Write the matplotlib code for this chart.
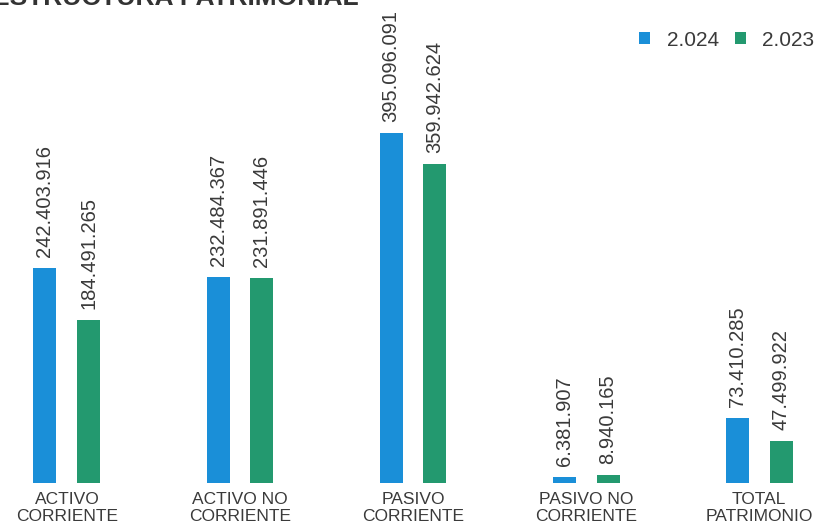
import matplotlib.pyplot as plt
import numpy as np

plt.rcParams["font.family"] = ["Liberation Sans", "DejaVu Sans"]

categories = ["ACTIVO\nCORRIENTE", "ACTIVO NO\nCORRIENTE", "PASIVO\nCORRIENTE",
              "PASIVO NO\nCORRIENTE", "TOTAL\nPATRIMONIO"]
values_2024 = [242403916, 232484367, 395096091, 6381907, 73410285]
values_2023 = [184491265, 231891446, 359942624, 8940165, 47499922]
labels_2024 = ["242.403.916", "232.484.367", "395.096.091", "6.381.907", "73.410.285"]
labels_2023 = ["184.491.265", "231.891.446", "359.942.624", "8.940.165", "47.499.922"]
series_names = ["2.024", "2.023"]

blue = "#1a8fd8"
green = "#23996f"
text_col = "#3a3a3a"

fig = plt.figure(figsize=(8.21, 5.29), dpi=100)
ax = fig.add_axes([0, 46 / 529, 1, 483 / 529])

x = np.arange(len(categories))
w = 0.133
off = 0.127
ax.bar(x - off, values_2024, w, color=blue, label=series_names[0])
ax.bar(x + off, values_2023, w, color=green, label=series_names[1])

ymax = 483 / 350 * 395096091
ax.set_ylim(0, ymax)
ax.set_xlim(-0.387, 4.358)

# value labels, rotated above each bar
pad = ymax * 11 / 483
for xi, v, s in zip(x - off, values_2024, labels_2024):
    ax.text(xi, v + pad, s, rotation=90, ha="center", va="bottom",
            fontsize=14.5, color=text_col)
for xi, v, s in zip(x + off, values_2023, labels_2023):
    ax.text(xi, v + pad, s, rotation=90, ha="center", va="bottom",
            fontsize=14.5, color=text_col)

for xi, c in zip(x, categories):
    ax.text(xi, -ymax * 0.018, c, ha="center", va="top", fontsize=12.5,
            color=text_col, linespacing=1.2)

ax.axis("off")

ax.legend(loc="upper right", bbox_to_anchor=(1.015, 0.975), ncol=2, frameon=False,
          fontsize=15, handlelength=0.5, handleheight=0.5, handletextpad=0.8,
          columnspacing=0.8, labelcolor=text_col)

# title cut off by the top edge, as in the scan
fig.text(-0.01, 1 - 5 / 529, "ESTRUCTURA PATRIMONIAL", ha="left", va="baseline",
         fontsize=19, fontweight="bold", color="#333333")

fig.savefig("out.png", dpi=100, facecolor="white")
